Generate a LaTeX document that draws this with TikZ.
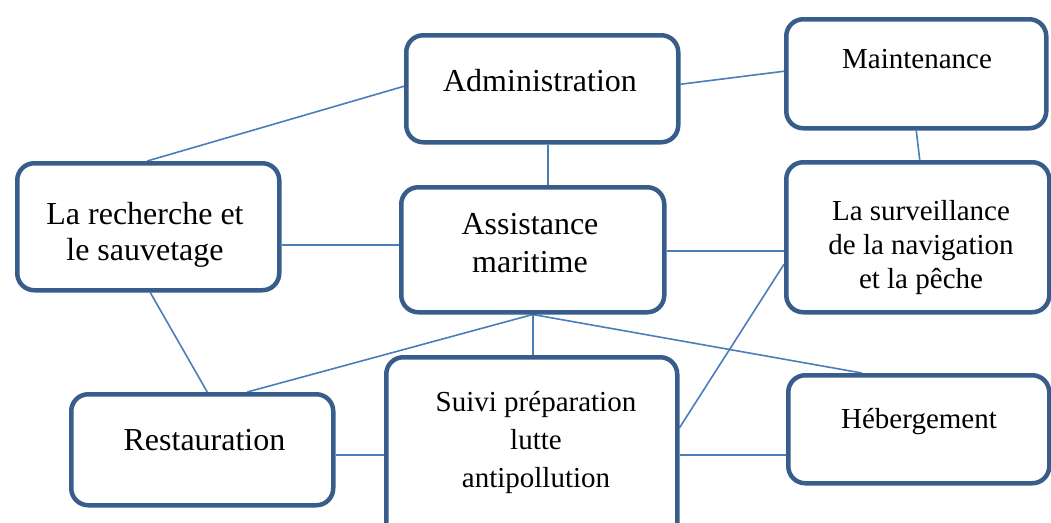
\documentclass[tikz,border=0pt]{standalone}
\usepackage{fontspec}
\setmainfont{Liberation Serif}
\usetikzlibrary{backgrounds}
\definecolor{boxc}{RGB}{56,93,138}
\definecolor{linec}{RGB}{74,126,187}
\tikzset{
  box/.style={draw=boxc, line width=4.5pt, rounded corners=17pt, fill=white, anchor=north west, inner sep=0pt},
  conn/.style={draw=linec, line width=1.6pt},
  big/.style={anchor=base, align=center, inner sep=0pt, font=\fontsize{32}{37}\selectfont},
  small/.style={anchor=base, align=center, inner sep=0pt, font=\fontsize{29}{34}\selectfont}
}
\begin{document}
\begin{tikzpicture}[x=1pt, y=-1pt]
\useasboundingbox (0,0) rectangle (1051,522);
\clip (0,0) rectangle (1051,522);
\node[box, minimum width=272pt, minimum height=107pt] (adm) at (404,33) {};
\node[box, minimum width=260pt, minimum height=109pt] (mai) at (784,17) {};
\node[box, minimum width=262pt, minimum height=127pt] (rec) at (15,161) {};
\node[box, minimum width=263pt, minimum height=125pt] (ass) at (399,185) {};
\node[box, minimum width=263pt, minimum height=150pt] (sur) at (784,160) {};
\node[box, minimum width=262pt, minimum height=111pt] (res) at (69,392) {};
\node[box, minimum width=291pt, minimum height=185pt] (sui) at (384,355) {};
\node[box, minimum width=261pt, minimum height=108pt] (heb) at (786,373) {};

\node[big] (admt) at (540,91) {Administration};
\node[small] (mait) at (917,68) {Maintenance};
\node[big, font=\fontsize{32}{36}\selectfont] (rect) at (145,260) {La recherche et\\le sauvetage};
\node[big, font=\fontsize{32}{38}\selectfont] (asst) at (530,272) {Assistance\\maritime};
\node[small] (surt) at (921,288) {La surveillance\\de la navigation\\et la pêche};
\node[big] (rest) at (204.5,450) {Restauration};
\node[small, font=\fontsize{29}{38}\selectfont] (suit) at (536,487) {Suivi préparation\\lutte\\antipollution};
\node[small] (hebt) at (919,428) {Hébergement};

\begin{scope}[on background layer]
\draw[conn] ([yshift=2.5pt]adm.west) -- ([xshift=-1pt]rec.north);
\draw[conn] ([yshift=4.5pt]adm.east) -- ([yshift=2.5pt]mai.west);
\draw[conn] ([xshift=6pt]adm.south) -- ([xshift=6pt]adm.south |- ass.north);
\draw[conn] (mai.south) -- ([xshift=2pt]sur.north);
\draw[conn] ([yshift=-18.5pt]rec.east) -- ([yshift=-18.5pt]rec.east -| ass.west);
\draw[conn] ([yshift=-1.5pt]ass.east) -- ([yshift=-1.5pt]ass.east -| sur.west);
\draw[conn] ([yshift=-27pt]sur.west) -- ([yshift=22pt]sui.east);
\draw[conn] ([xshift=2pt]rec.south) -- ([xshift=5pt]res.north);
\draw[conn] (ass.south) -- ([xshift=45pt]res.north);
\draw[conn] (ass.south) -- (ass.south |- sui.north);
\draw[conn] (ass.south) -- ([xshift=-57pt]heb.north);
\draw[conn] ([yshift=-5.5pt]res.east) -- ([yshift=-5.5pt]res.east -| sui.west);
\draw[conn] ([yshift=-5.5pt]sui.east) -- ([yshift=-5.5pt]sui.east -| heb.west);
\end{scope}
\end{tikzpicture}
\end{document}
